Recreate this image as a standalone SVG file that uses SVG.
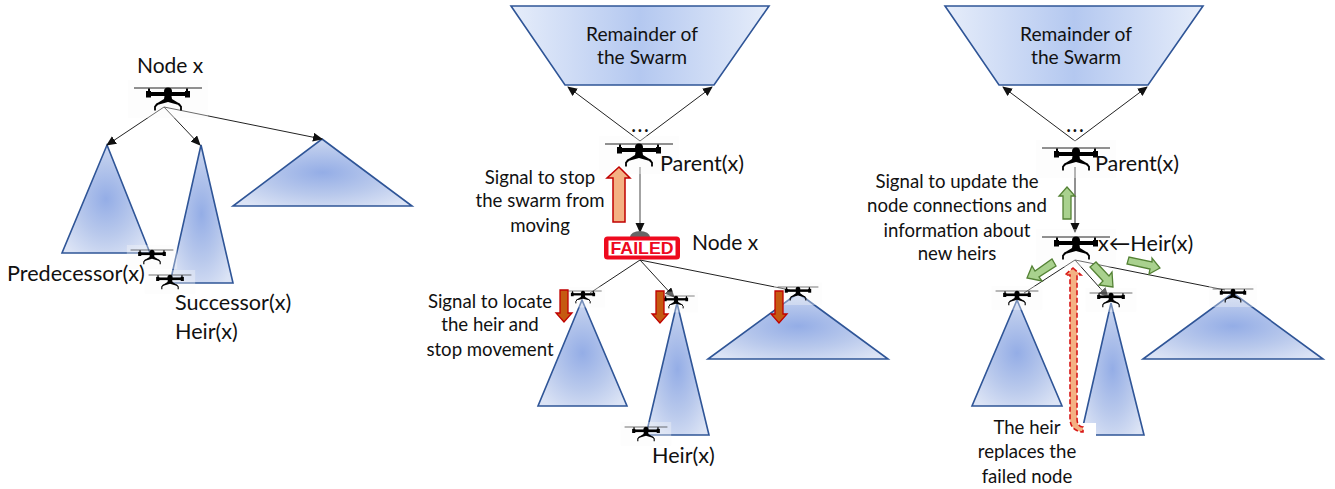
<svg xmlns="http://www.w3.org/2000/svg" width="1335" height="489" viewBox="0 0 1335 489">
<style>
text{font-family:"Lato","Liberation Sans",sans-serif;fill:#111}
.l{font-size:21.6px}
.n{font-size:21px}
.m{font-size:18.6px;text-anchor:middle}
.s{font-size:19.2px;text-anchor:middle}
.d{font-size:18px;text-anchor:middle;font-weight:700;letter-spacing:2px}
.t{stroke:#2f5597;stroke-width:1.6;fill:url(#rg)}
.z{stroke:#2f5597;stroke-width:1.6;fill:url(#lg)}
.c{stroke:#222;stroke-width:1;fill:none;marker-end:url(#ah)}
.c0{stroke:#222;stroke-width:1;fill:none}
.g{fill:#a9d18e;stroke:#548235;stroke-width:1.3}
.r{fill:#c55a11;stroke:#c00000;stroke-width:1.3}
.o{fill:#f4b183;stroke:#c00000;stroke-width:1.5}
</style>
<defs>
<radialGradient id="rg" cx="0.5" cy="0.5" r="0.62"><stop offset="0" stop-color="#94ade6"/><stop offset="0.55" stop-color="#b9c9ec"/><stop offset="1" stop-color="#dbe3f5"/></radialGradient>
<linearGradient id="lg" x1="0" x2="1" y1="0" y2="0"><stop offset="0" stop-color="#e6edfa"/><stop offset="0.5" stop-color="#b4c8f0"/><stop offset="1" stop-color="#e6edfa"/></linearGradient>
<marker id="ah" markerWidth="10" markerHeight="10" refX="9" refY="4.500" orient="auto" markerUnits="userSpaceOnUse"><path d="M0,0L10,4.500L0,9Z" fill="#111"/></marker>
<g id="drone">
<rect x="-40" y="-8" width="80" height="38" fill="#fafafa" opacity="0.35"/>
<path d="M-34,0H34" stroke="#222" stroke-width="1"/>
<path d="M-19,0.5V7M19,0.5V7" stroke="#000" stroke-width="2"/>
<path d="M-20,6H20" stroke="#000" stroke-width="4.200"/>
<rect x="-22" y="3" width="5" height="6.500"/>
<rect x="17" y="3" width="5" height="6.500"/>
<circle cx="0" cy="3.500" r="4"/>
<path d="M-3,5H3L4,11L13,16.500H9L0,14L-9,16.500H-13L-4,11Z"/>
<path d="M-10,15.500L-13,18.500V22.500M10,15.500L13,18.500V22.500" stroke="#000" stroke-width="1.800" fill="none"/>
</g>
</defs>
<rect width="1335" height="489" fill="#fff"/>
<g id="shapes-panel1">
<path class="t" d="M107,145L150,253H62Z"/>
<path class="t" d="M201,145L233,283H170Z"/>
<path class="t" d="M322,139L412,206H233Z"/>
</g>
<g id="shapes-panel2">
<path class="z" d="M511,6H769L714,85H565Z"/>
<path class="t" d="M582,300L627,406H538Z"/>
<path class="t" d="M677,303L709,435H646Z"/>
<path class="t" d="M798,293L888,359H708Z"/>
</g>
<g id="shapes-panel3">
<path class="z" d="M945,6H1203L1148,85H999Z"/>
<path class="t" d="M1017,300L1062,406H972Z"/>
<path class="t" d="M1111,303L1144,435H1081Z"/>
<path class="t" d="M1233,293L1323,359H1143Z"/>
<rect x="1080" y="423" width="16" height="14" fill="#fff"/>
</g>
<g id="connectors">
<path class="c" d="M164,107L107,145"/>
<path class="c" d="M164,107L200,145"/>
<path class="c" d="M164,107L322,139"/>
<path class="c" d="M640,141L568,87"/>
<path class="c" d="M640,141L712,87"/>
<path d="M640,167V232" stroke="#666" stroke-width="1.2" fill="none" marker-end="url(#ah)"/>
<path class="c0" d="M640,260L590,293"/>
<path class="c" d="M640,260L674,297"/>
<path class="c0" d="M640,260L790,290"/>
<path class="c" d="M1075,141L1003,87"/>
<path class="c" d="M1075,141L1147,87"/>
<path class="c" d="M1075,167V232"/>
<path class="c0" d="M1075,260L1024,293"/>
<path class="c" d="M1075,260L1108,297"/>
<path class="c0" d="M1075,260L1225,290"/>
</g>
<g id="node-x-1"><use href="#drone" transform="translate(168,88)"/><text class="n" x="137" y="73">Node x</text></g>
<g id="predecessor"><use href="#drone" transform="translate(152,250) scale(0.63)"/><text class="l" x="7" y="281">Predecessor(x)</text></g>
<g id="successor"><use href="#drone" transform="translate(170,275) scale(0.63)"/><text class="l" x="175" y="310">Successor(x)</text><text class="l" x="175" y="339">Heir(x)</text></g>
<g id="swarm-2"><text class="s" x="642" y="41">Remainder of</text><text class="s" x="642" y="64">the Swarm</text><text class="d" x="641" y="132">...</text></g>
<g id="parent-2"><use href="#drone" transform="translate(639,144)"/><text class="l" x="660" y="171">Parent(x)</text></g>
<g id="signal-stop"><path class="o" d="M619,167L630,178H625V222H613V178H607Z"/><text class="m" x="540" y="184">Signal to stop</text><text class="m" x="540" y="207">the swarm from</text><text class="m" x="540" y="232">moving</text></g>
<g id="failed-node">
<path d="M630,237A10,6 0 0 1 650,237Z" fill="#666"/>
<rect x="604" y="236.500" width="76" height="23" rx="3.500" fill="#ee0a1e"/>
<rect x="608.500" y="240.500" width="67" height="15" fill="#fff"/>
<text x="642" y="254" font-size="17" font-weight="700" text-anchor="middle" textLength="63" lengthAdjust="spacingAndGlyphs" style="font-family:'Liberation Sans',sans-serif;fill:#ee0a1e">FAILED</text>
<text class="n" x="692" y="250">Node x</text>
</g>
<g id="child-2a"><use href="#drone" transform="translate(583,291) scale(0.55)"/></g>
<g id="child-2b"><use href="#drone" transform="translate(676,296) scale(0.55)"/></g>
<g id="child-2c"><use href="#drone" transform="translate(798,287) scale(0.6)"/></g>
<g id="heir-2"><use href="#drone" transform="translate(646,427) scale(0.63)"/><text class="l" x="652" y="463">Heir(x)</text></g>
<g id="signal-locate">
<path class="r" d="M560,290H568V313H572L564,322L556,313H560Z"/>
<path class="r" d="M656,291H664V314H668L660,323L652,314H656Z"/>
<path class="r" d="M775,291H783V314H787L779,323L771,314H775Z"/>
<text class="m" x="490" y="308">Signal to locate</text><text class="m" x="490" y="331">the heir and</text><text class="m" x="490" y="356">stop movement</text>
</g>
<g id="swarm-3"><text class="s" x="1076" y="41">Remainder of</text><text class="s" x="1076" y="64">the Swarm</text><text class="d" x="1076" y="132">...</text></g>
<g id="parent-3"><use href="#drone" transform="translate(1076,148)"/><text class="l" x="1095" y="171">Parent(x)</text></g>
<g id="signal-update"><path class="g" d="M1067,187L1075,196H1071V219H1063V196H1059Z"/><text class="m" x="957" y="188">Signal to update the</text><text class="m" x="957" y="212">node connections and</text><text class="m" x="957" y="237">information about</text><text class="m" x="957" y="260">new heirs</text></g>
<g id="heir-node"><use href="#drone" transform="translate(1076,237)"/><text class="l" x="1098" y="251">x←Heir(x)</text></g>
<g id="green-arrows">
<path class="g" d="M1027,278L1032,266L1035,271L1052,259L1056,266L1039,277L1042,281Z"/>
<path class="g" d="M1113,287L1099,285L1103,281L1090,267L1096,262L1109,276L1112,272Z"/>
<path class="g" d="M1160,268L1149,274L1150,269L1127,264L1129,257L1152,262L1152,258Z"/>
</g>
<g id="child-3a"><use href="#drone" transform="translate(1017,291) scale(0.63)"/></g>
<g id="child-3b"><use href="#drone" transform="translate(1111,293) scale(0.63)"/></g>
<g id="child-3c"><use href="#drone" transform="translate(1233,289) scale(0.6)"/></g>
<g id="heir-replace">
<path d="M1073,268L1081,275H1077V418Q1077,427 1083,427V432Q1070,431 1070,418V275H1065Z" fill="#f4b183" stroke="#d81818" stroke-width="1.6" stroke-dasharray="5 2.500"/>
<text class="m" x="1027" y="434">The heir</text><text class="m" x="1027" y="458">replaces the</text><text class="m" x="1027" y="483">failed node</text>
</g>
</svg>
